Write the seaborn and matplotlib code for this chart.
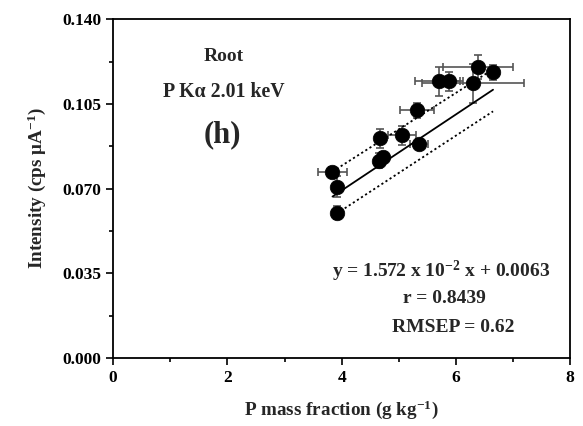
import numpy as np
import pandas as pd
import matplotlib
matplotlib.use("Agg")
import matplotlib.pyplot as plt
import seaborn as sns
from matplotlib.ticker import MultipleLocator, FormatStrFormatter

# ---- data ----
p_mass = [3.84, 3.92, 3.92, 4.66, 4.72, 4.68, 5.06, 5.36, 5.32, 5.71, 5.88, 6.30, 6.39, 6.65]
intensity = [0.0770, 0.0708, 0.0600, 0.0815, 0.0830, 0.0907, 0.0920, 0.0886,
             0.1023, 0.1143, 0.1143, 0.1135, 0.1201, 0.1180]
x_err = [0.25, 0.0, 0.0, 0.0, 0.0, 0.0, 0.24, 0.16, 0.30, 0.42, 0.20, 0.90, 0.61, 0.05]
y_err = [0.002, 0.0043, 0.0026, 0.003, 0.002, 0.004, 0.004, 0.002, 0.003,
         0.006, 0.004, 0.008, 0.005, 0.003]
slope = 1.572e-2
intercept = 0.0063
band_x = [3.84, 6.65]
band_upper = [0.0770, 0.1193]
band_lower = [0.0585, 0.1019]
x_ticks = [0, 2, 4, 6, 8]
y_ticks = [0.000, 0.035, 0.070, 0.105, 0.140]

sns.set_theme(style="ticks")
plt.rcParams['font.family'] = ['Liberation Serif', 'DejaVu Serif']
plt.rcParams['font.weight'] = 'bold'
plt.rcParams['mathtext.fontset'] = 'custom'
plt.rcParams['mathtext.rm'] = 'Liberation Serif:bold'
plt.rcParams['mathtext.it'] = 'Liberation Serif:italic:bold'
plt.rcParams['mathtext.bf'] = 'Liberation Serif:bold'

df = pd.DataFrame({"x": p_mass, "y": intensity, "xe": x_err, "ye": y_err})

fig = plt.figure(figsize=(5.83, 4.26), dpi=100)
ax = fig.add_axes([0.194, 0.160, 0.784, 0.795])

# error bars
ax.errorbar(df["x"], df["y"], xerr=df["xe"], yerr=df["ye"], fmt="none",
            ecolor="#555555", elinewidth=1.2, capsize=3, capthick=1.2, zorder=2)

# fit line & bands
fit_x = np.array([min(p_mass), max(p_mass)])
fit_df = pd.DataFrame({"x": fit_x, "y": slope * fit_x + intercept})
sns.lineplot(data=fit_df, x="x", y="y", ax=ax, color="black", linewidth=1.3, zorder=3)
sns.lineplot(x=band_x, y=band_upper, ax=ax, color="black", linewidth=1.3,
             linestyle=(0, (1.2, 1.5)), zorder=3)
sns.lineplot(x=band_x, y=band_lower, ax=ax, color="black", linewidth=1.3,
             linestyle=(0, (1.2, 1.5)), zorder=3)

# points
sns.scatterplot(data=df, x="x", y="y", ax=ax, color="black", s=110,
                edgecolor="black", linewidth=0.5, zorder=4)

ax.set_xlim(0, 8)
ax.set_ylim(0, 0.140)
ax.set_xticks(x_ticks)
ax.set_yticks(y_ticks)
ax.xaxis.set_minor_locator(MultipleLocator(1))
ax.yaxis.set_minor_locator(MultipleLocator(0.0175))
ax.yaxis.set_major_formatter(FormatStrFormatter('%.3f'))
ax.xaxis.set_major_formatter(FormatStrFormatter('%d'))
ax.tick_params(axis='both', which='major', direction='out', length=5, width=1.2,
               labelsize=12.5, color='black', labelcolor='black')
ax.tick_params(axis='both', which='minor', direction='out', length=3, width=1.2, color='black')
ax.tick_params(top=False, right=False, which='both')
for lab in ax.get_xticklabels() + ax.get_yticklabels():
    lab.set_fontweight('bold')
for sp in ax.spines.values():
    sp.set_visible(True)
    sp.set_linewidth(1.3)
    sp.set_color('black')

ax.set_xlabel("P mass fraction (g kg$^{-1}$)", fontsize=13.8, fontweight='bold', labelpad=9)
ax.set_ylabel("Intensity (cps μA$^{-1}$)", fontsize=13.8, fontweight='bold', labelpad=10)

ax.text(1.94, 0.1247, "Root", ha='center', va='center', fontsize=14, fontweight='bold')
ax.text(1.94, 0.1098, "P Kα 2.01 keV", ha='center', va='center', fontsize=14.3, fontweight='bold')
ax.text(1.91, 0.0924, "(h)", ha='center', va='center', fontsize=22, fontweight='bold')

ax.text(5.74, 0.0356, "y = 1.572 x 10$^{-2}$ x + 0.0063", ha='center', va='center',
        fontsize=14, fontweight='bold')
ax.text(5.80, 0.0244, "r = 0.8439", ha='center', va='center', fontsize=14, fontweight='bold')
ax.text(5.95, 0.0124, "RMSEP = 0.62", ha='center', va='center', fontsize=14, fontweight='bold')

fig.savefig("out.png", dpi=100)
